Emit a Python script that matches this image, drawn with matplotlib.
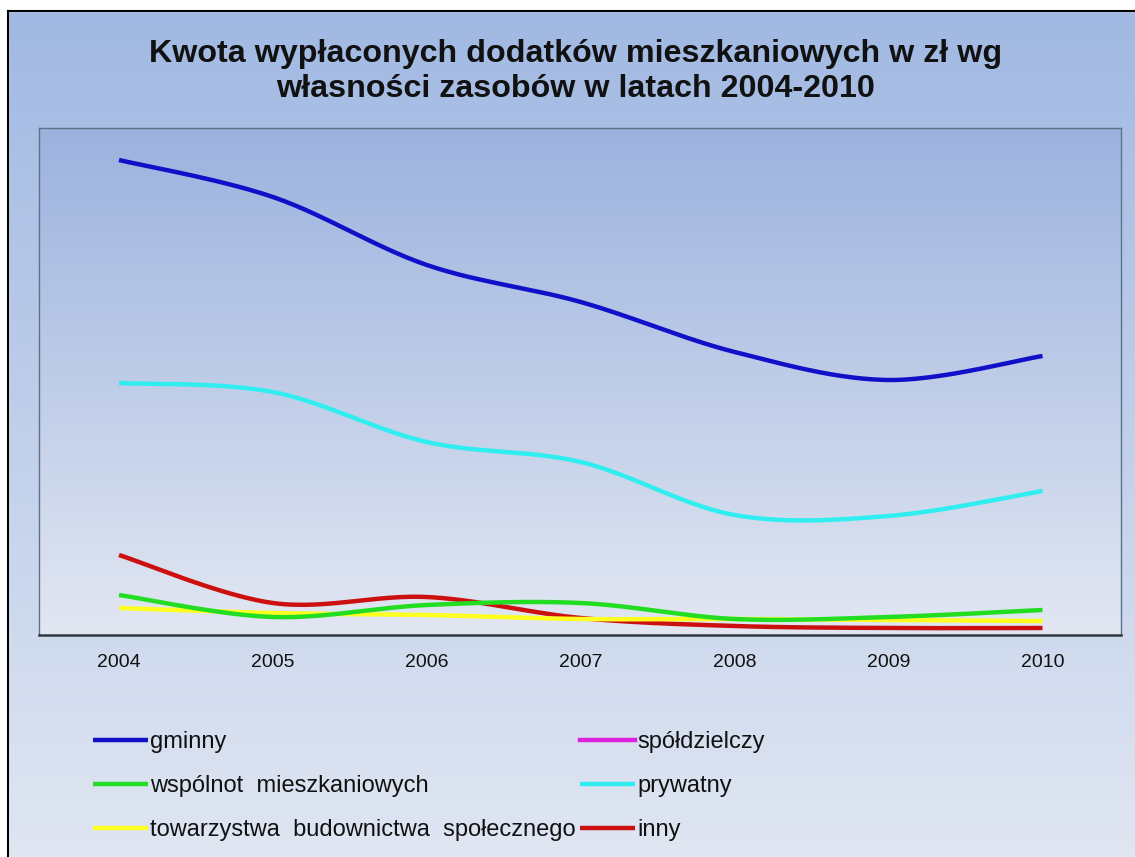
import numpy as np
import matplotlib.pyplot as plt
from matplotlib.lines import Line2D

years = [2004, 2005, 2006, 2007, 2008, 2009, 2010]
gminny = [475, 438, 370, 333, 283, 255, 279]
wspolnot = [40, 18, 30, 32, 16, 18, 25]
towarzystwa = [27, 22, 20, 16, 16, 15, 14]
spoldzielczy = [np.nan] * 7
prywatny = [252, 243, 193, 173, 120, 119, 144]
inny = [80, 32, 38, 17, 9, 7, 7]

labels = ["gminny", "wspólnot  mieszkaniowych", "towarzystwa  budownictwa  społecznego",
          "spółdzielczy", "prywatny", "inny"]
series = [gminny, wspolnot, towarzystwa, spoldzielczy, prywatny, inny]
colors = ["#1010c8", "#22dd22", "#ffff20", "#dd22dd", "#30eef0", "#cc1010"]
order = [5, 2, 1, 3, 4, 0]  # drawing order, bottom to top


def smooth(x, y, n=30):
    # Catmull-Rom style bezier through every point
    x = np.asarray(x, float)
    y = np.asarray(y, float)
    px = np.concatenate([[x[0]], x, [x[-1]]])
    py = np.concatenate([[y[0]], y, [y[-1]]])
    xs, ys = [], []
    t = np.linspace(0, 1, n)
    for i in range(1, len(px) - 2):
        p0 = np.array([px[i], py[i]])
        p3 = np.array([px[i + 1], py[i + 1]])
        p1 = p0 + (p3 - np.array([px[i - 1], py[i - 1]])) / 6
        p2 = p3 - (np.array([px[i + 2], py[i + 2]]) - p0) / 6
        b = ((1 - t) ** 3)[:, None] * p0 + (3 * (1 - t) ** 2 * t)[:, None] * p1 \
            + (3 * (1 - t) * t ** 2)[:, None] * p2 + (t ** 3)[:, None] * p3
        xs.extend(b[:, 0])
        ys.extend(b[:, 1])
    return np.array(xs), np.array(ys)


def vgradient(top, bottom):
    g = np.linspace(0, 1, 256)[:, None]
    top = np.array(top) / 255
    bottom = np.array(bottom) / 255
    img = top + (bottom - top) * g
    return np.repeat(img[:, None, :], 2, axis=1)


W, H = 1135, 857
fig = plt.figure(figsize=(W / 100, H / 100), dpi=100)
plt.rcParams["font.family"] = ["Liberation Sans", "DejaVu Sans"]

# background gradient of the whole chart
bg = fig.add_axes([0, 0, 1, 1], zorder=-10)
bg.imshow(vgradient([160, 184, 226], [224, 230, 242]), aspect="auto",
          extent=[0, 1, 0, 1], origin="upper")
bg.set_xlim(0, 1)
bg.set_ylim(0, 1)
bg.axis("off")
# white margin and black frame
bg.fill_between([0, 1], 1 - 11 / H, 1, color="white", zorder=2)
bg.fill_between([0, 8 / W], 0, 1, color="white", zorder=2)
bg.plot([8 / W, 8 / W], [0, 1 - 11 / H], color="black", lw=1.5, zorder=3)
bg.plot([8 / W, 1], [1 - 11 / H, 1 - 11 / H], color="black", lw=1.5, zorder=3)

ax = fig.add_axes([39 / W, 1 - 635 / H, 1082 / W, 507 / H])
ax.set_facecolor("none")
ax.imshow(vgradient([156, 178, 222], [226, 231, 242]), aspect="auto",
          extent=[2003.48, 2010.51, 0, 507], origin="upper", zorder=0)

handles = {}
for i in order:
    vals = series[i]
    if np.all(np.isnan(vals)):
        handles[i] = Line2D([], [], color=colors[i], lw=3.2)
        continue
    sx, sy = smooth(years, vals)
    (ln,) = ax.plot(sx, sy, color=colors[i], lw=3.2, solid_capstyle="butt", zorder=3)
    handles[i] = ln

ax.set_xlim(2003.48, 2010.51)
ax.set_ylim(0, 507)
ax.set_xticks(years)
ax.set_xticklabels([str(y) for y in years], fontsize=14, color="#111111")
ax.tick_params(axis="x", length=0, pad=14)
ax.set_yticks([])
for side in ["left", "top", "right"]:
    ax.spines[side].set_color("#607088")
    ax.spines[side].set_linewidth(1.0)
ax.spines["bottom"].set_color("#303840")
ax.spines["bottom"].set_linewidth(1.8)

title_lines = ["Kwota wypłaconych dodatków mieszkaniowych w zł wg",
               "własności zasobów w latach 2004-2010"]
for k, line in enumerate(title_lines):
    fig.text(576 / W, 1 - (62 + 35 * k) / H, line, ha="center", va="baseline",
             fontsize=23.2, fontweight="bold", color="#111111")

leg = fig.legend([handles[i] for i in range(6)], labels, ncol=2,
                 loc="upper left", bbox_to_anchor=(84 / W, 1 - 722 / H),
                 frameon=False, fontsize=17, handlelength=2.3, handletextpad=0.1,
                 columnspacing=0.2, labelspacing=0.92, borderaxespad=0)
for t in leg.get_texts():
    t.set_color("#111111")

fig.savefig("out.png", dpi=100)
